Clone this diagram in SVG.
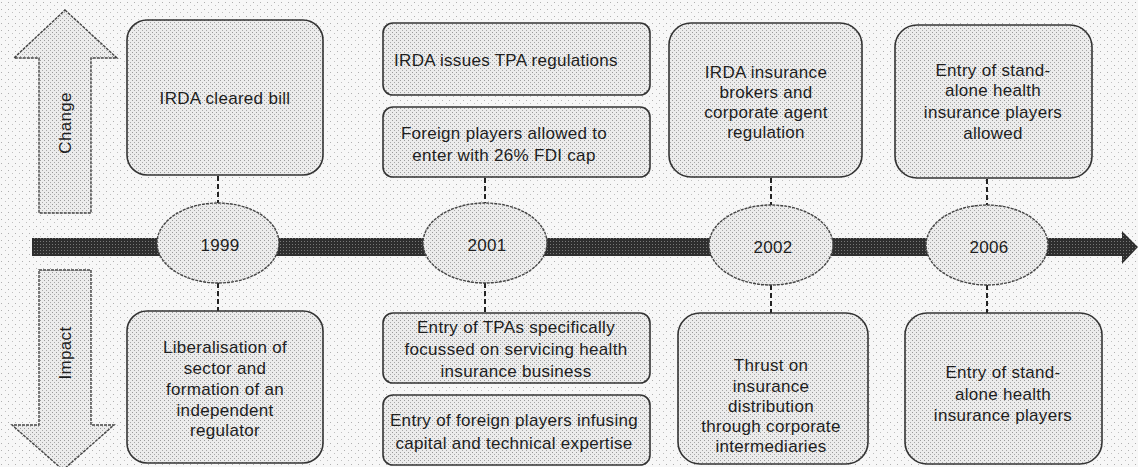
<svg xmlns="http://www.w3.org/2000/svg" width="1138" height="467" viewBox="0 0 1138 467">
<defs>
<pattern id="stip" width="4" height="4" patternUnits="userSpaceOnUse">
<rect width="4" height="4" fill="#ececec"/>
<rect x="0" y="0" width="1" height="1" fill="#9a9a9a"/>
<rect x="2" y="2" width="1" height="1" fill="#a8a8a8"/>
</pattern>
<pattern id="bg" width="7" height="7" patternUnits="userSpaceOnUse">
<rect width="7" height="7" fill="#f7f7f7"/>
<rect x="1" y="2" width="1" height="1" fill="#b0b0b0"/>
<rect x="5" y="5" width="1" height="1" fill="#c0c0c0"/>
</pattern>
<pattern id="dark" width="3" height="3" patternUnits="userSpaceOnUse">
<rect width="3" height="3" fill="#2e2e2e"/>
<rect x="1" y="1" width="1" height="1" fill="#777"/>
</pattern>
</defs>
<style>
.box{fill:url(#stip);stroke:#333;stroke-width:1.6}
.ell{fill:url(#stip);stroke:#444;stroke-width:1.4;stroke-dasharray:3 1}
.arr{fill:url(#stip);stroke:#444;stroke-width:1.4;stroke-dasharray:3 1}
.t{font-family:"Liberation Sans",Arial,sans-serif;font-size:17px;fill:#1e1e1e;text-anchor:middle;letter-spacing:0.3px}
.c{stroke:#222;stroke-width:2;stroke-dasharray:5 3;fill:none}
</style>
<rect width="1138" height="467" fill="url(#bg)"/>

<g id="timeline">
<rect x="32" y="238" width="1092" height="18" fill="url(#dark)"/>
<polygon points="1122,231 1138,247 1122,264" fill="url(#dark)"/>
</g>

<g id="change-arrow">
<polygon class="arr" points="65,10 117,58 91,58 91,213 39,213 39,58 14,58"/>
<text class="t" transform="translate(71,123) rotate(-90)">Change</text>
</g>
<g id="impact-arrow">
<polygon class="arr" points="39,270 91,270 91,425 114,425 63,470 12,425 39,425"/>
<text class="t" transform="translate(71,353) rotate(-90)">Impact</text>
</g>

<g id="connectors">
<line class="c" x1="218" y1="176" x2="218" y2="203"/>
<line class="c" x1="218" y1="283" x2="218" y2="311"/>
<line class="c" x1="485" y1="178" x2="485" y2="203"/>
<line class="c" x1="485" y1="283" x2="485" y2="313"/>
<line class="c" x1="771" y1="178" x2="771" y2="205"/>
<line class="c" x1="771" y1="285" x2="771" y2="313"/>
<line class="c" x1="987" y1="179" x2="987" y2="205"/>
<line class="c" x1="987" y1="285" x2="987" y2="313"/>
</g>

<g id="change-1999">
<rect class="box" x="127" y="20" width="196" height="155" rx="20"/>
<text class="t" x="225" y="104">IRDA cleared bill</text>
</g>
<g id="year-1999">
<ellipse class="ell" cx="218" cy="243" rx="61" ry="40"/>
<text class="t" x="220" y="251">1999</text>
</g>
<g id="impact-1999">
<rect class="box" x="127" y="311" width="196" height="152" rx="20"/>
<text class="t" x="225" y="353">Liberalisation of</text>
<text class="t" x="225" y="374">sector and</text>
<text class="t" x="225" y="395">formation of an</text>
<text class="t" x="225" y="416">independent</text>
<text class="t" x="225" y="436">regulator</text>
</g>

<g id="change-2001a">
<rect class="box" x="383" y="23" width="267" height="72" rx="10"/>
<text class="t" x="506" y="66">IRDA issues TPA regulations</text>
</g>
<g id="change-2001b">
<rect class="box" x="383" y="107" width="267" height="70" rx="10"/>
<text class="t" x="504" y="139">Foreign players allowed to</text>
<text class="t" x="504" y="161">enter with 26% FDI cap</text>
</g>
<g id="year-2001">
<ellipse class="ell" cx="485" cy="243" rx="62" ry="40"/>
<text class="t" x="487" y="251">2001</text>
</g>
<g id="impact-2001a">
<rect class="box" x="383" y="313" width="267" height="70" rx="10"/>
<text class="t" x="516" y="333">Entry of TPAs specifically</text>
<text class="t" x="516" y="355">focussed on servicing health</text>
<text class="t" x="516" y="377">insurance business</text>
</g>
<g id="impact-2001b">
<rect class="box" x="383" y="395" width="267" height="70" rx="10"/>
<text class="t" x="514" y="426">Entry of foreign players infusing</text>
<text class="t" x="514" y="449">capital and technical expertise</text>
</g>

<g id="change-2002">
<rect class="box" x="669" y="23" width="193" height="154" rx="22"/>
<text class="t" x="766" y="78">IRDA insurance</text>
<text class="t" x="766" y="98">brokers and</text>
<text class="t" x="766" y="118">corporate agent</text>
<text class="t" x="766" y="138">regulation</text>
</g>
<g id="year-2002">
<ellipse class="ell" cx="771" cy="245" rx="62" ry="40"/>
<text class="t" x="773" y="253">2002</text>
</g>
<g id="impact-2002">
<rect class="box" x="678" y="313" width="190" height="151" rx="22"/>
<text class="t" x="771" y="371">Thrust on</text>
<text class="t" x="771" y="392">insurance</text>
<text class="t" x="771" y="412">distribution</text>
<text class="t" x="771" y="432">through corporate</text>
<text class="t" x="771" y="452">intermediaries</text>
</g>

<g id="change-2006">
<rect class="box" x="895" y="25" width="197" height="153" rx="22"/>
<text class="t" x="993" y="76">Entry of stand-</text>
<text class="t" x="993" y="96">alone health</text>
<text class="t" x="993" y="118">insurance players</text>
<text class="t" x="993" y="139">allowed</text>
</g>
<g id="year-2006">
<ellipse class="ell" cx="987" cy="245" rx="61" ry="40"/>
<text class="t" x="989" y="253">2006</text>
</g>
<g id="impact-2006">
<rect class="box" x="905" y="313" width="197" height="151" rx="22"/>
<text class="t" x="1003" y="378">Entry of stand-</text>
<text class="t" x="1003" y="400">alone health</text>
<text class="t" x="1003" y="421">insurance players</text>
</g>
</svg>
